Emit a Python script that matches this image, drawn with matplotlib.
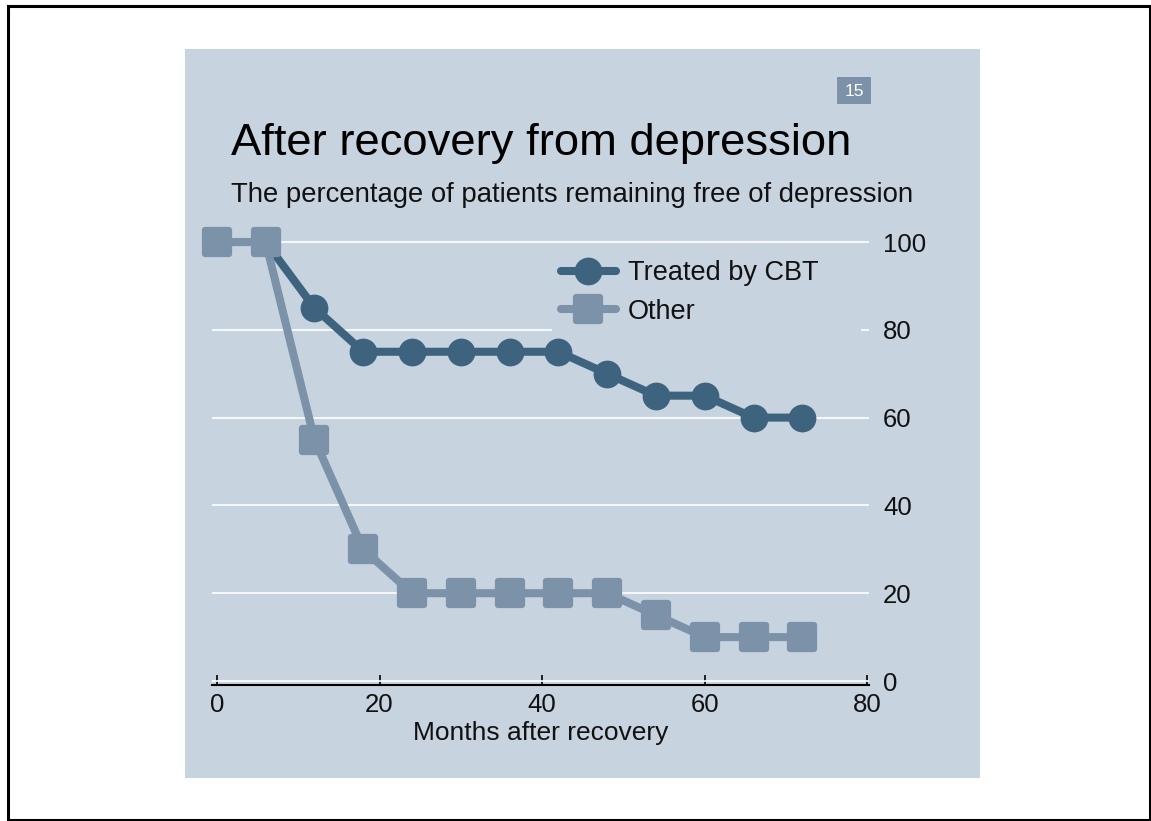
import matplotlib
matplotlib.use("Agg")
import matplotlib.pyplot as plt
from matplotlib.markers import MarkerStyle
from matplotlib.patches import Rectangle

# ---- data ----
months = [0, 6, 12, 18, 24, 30, 36, 42, 48, 54, 60, 66, 72]
cbt = [100, 100, 85, 75, 75, 75, 75, 75, 70, 65, 65, 60, 60]
other = [100, 100, 55, 30, 20, 20, 20, 20, 20, 15, 10, 10, 10]
series_labels = ["Treated by CBT", "Other"]
x_ticks = [0, 20, 40, 60, 80]
y_ticks = [0, 20, 40, 60, 80, 100]
title = "After recovery from depression"
subtitle = "The percentage of patients remaining free of depression"
xlabel = "Months after recovery"
badge = "15"

# ---- style ----
W, H = 1151, 821
PANEL = "#c7d3df"
DARK = "#3d637f"
LIGHT = "#7b92a8"
FONT = ["Liberation Sans", "DejaVu Sans"]
plt.rcParams["font.family"] = FONT

fig = plt.figure(figsize=(W / 100, H / 100), dpi=100, facecolor="white")

def fx(x):
    return x / W

def fy(y):
    return 1 - y / H

# border
fig.patches.append(Rectangle((fx(8), fy(820)), fx(1150) - fx(8), fy(6) - fy(820),
                             transform=fig.transFigure, fill=False,
                             edgecolor="black", linewidth=2.2, zorder=-2))
# panel
fig.patches.append(Rectangle((fx(185), fy(778)), fx(980) - fx(185), fy(49) - fy(778),
                             transform=fig.transFigure, facecolor=PANEL,
                             edgecolor="none", zorder=-2))
# badge
fig.patches.append(Rectangle((fx(837), fy(104)), fx(871) - fx(837), fy(77) - fy(104),
                             transform=fig.transFigure, facecolor=LIGHT,
                             edgecolor="none", zorder=-1))
fig.text(fx(854), fy(91), badge, color="white", fontsize=12.5,
         ha="center", va="center")

fig.text(fx(231), fy(155), title, fontsize=32.7, color="black",
         ha="left", va="baseline")
fig.text(fx(231), fy(202), subtitle, fontsize=19.8, color="#111111",
         ha="left", va="baseline")

ax_l, ax_r, ax_t, ax_b = 212, 869, 240, 685
ax = fig.add_axes([fx(ax_l), fy(ax_b), fx(ax_r) - fx(ax_l), fy(ax_t) - fy(ax_b)])
ax.set_zorder(1)
ax.set_facecolor("none")
ax.set_xlim(-0.6, 80.2)
ax.set_ylim(-0.91, 100.46)

for s in ["top", "left", "right"]:
    ax.spines[s].set_visible(False)
ax.spines["bottom"].set_color("black")
ax.spines["bottom"].set_linewidth(1.5)

ax.set_axisbelow(True)
ax.yaxis.grid(True, color="white", linewidth=1.2)
ax.xaxis.grid(False)

ax.set_xticks(x_ticks)
ax.set_xticklabels([str(v) for v in x_ticks])
ax.tick_params(axis="x", direction="in", length=7, width=1.2, color="black",
               pad=5.5, labelsize=18.5, labelcolor="#111111")
ax.yaxis.tick_right()
ax.set_yticks(y_ticks)
ax.set_yticklabels([str(v) for v in y_ticks])
ax.tick_params(axis="y", length=0, pad=10, labelsize=18.5, labelcolor="#111111")
for lab in ax.get_yticklabels():
    lab.set_horizontalalignment("left")

ax.set_xlabel(xlabel, fontsize=19, color="#111111", labelpad=3)

# cover the gridline behind the legend
ax.add_patch(Rectangle((fx(552), fy(338)), fx(861) - fx(552), fy(252) - fy(338),
                       transform=fig.transFigure, facecolor=PANEL,
                       edgecolor="none", zorder=1))

sq = MarkerStyle("s", joinstyle="round")
l1, = ax.plot(months, cbt, color=DARK, linewidth=5.8, marker="o",
              markersize=18.5, markerfacecolor=DARK, markeredgecolor=DARK,
              markeredgewidth=1.5, clip_on=False, zorder=3,
              label=series_labels[0], solid_joinstyle="round",
              solid_capstyle="round")
l2, = ax.plot(months, other, color=LIGHT, linewidth=5.8, marker=sq,
              markersize=17, markerfacecolor=LIGHT, markeredgecolor=LIGHT,
              markeredgewidth=4.5, clip_on=False, zorder=4,
              label=series_labels[1], solid_joinstyle="round",
              solid_capstyle="round")

leg = ax.legend(handles=[l1, l2], loc="upper left",
                bbox_to_anchor=(fx(561), fy(260)), bbox_transform=fig.transFigure,
                frameon=False, borderpad=0, borderaxespad=0, numpoints=1,
                handlelength=2.03, handletextpad=0.44, labelspacing=0.47,
                fontsize=19.5)
for t in leg.get_texts():
    t.set_color("#111111")
leg.set_zorder(5)

fig.savefig("out.png", dpi=100, facecolor="white")
